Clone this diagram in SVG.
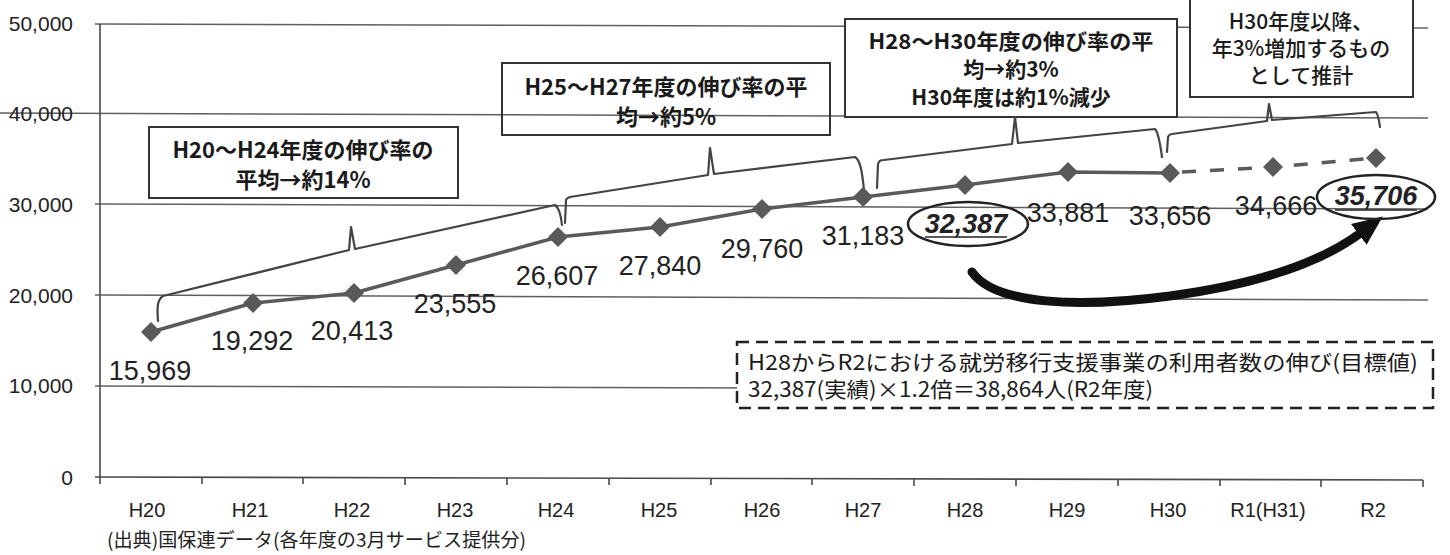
<svg xmlns="http://www.w3.org/2000/svg" xmlns:xlink="http://www.w3.org/1999/xlink" width="1450" height="555" viewBox="0 0 1450 555">
<style>
.grid{stroke:#5f5f5f;stroke-width:1.5;fill:none}
.axis{stroke:#4a4a4a;stroke-width:1.6;fill:none}
.ylab{font-family:"Liberation Sans",Arial,sans-serif;font-size:21px;fill:#222;text-anchor:end}
.xlab{font-family:"Liberation Sans",Arial,sans-serif;font-size:20px;fill:#222;text-anchor:middle}
.val{font-family:"Liberation Sans",Arial,sans-serif;font-size:27px;fill:#222;text-anchor:middle}
.valem{font-family:"Liberation Sans",Arial,sans-serif;font-size:27px;fill:#222;text-anchor:middle;font-style:italic;font-weight:bold}
.box{stroke:#333;stroke-width:2;fill:#fff}
.boxt{font-family:"Noto Sans CJK JP",sans-serif;font-size:22px;font-weight:700;fill:#1a1a1a;text-anchor:middle}
.boxs{font-family:"Noto Sans CJK JP",sans-serif;font-size:21px;font-weight:700;fill:#1a1a1a;text-anchor:middle}
.boxn{font-family:"Noto Sans CJK JP",sans-serif;font-size:21px;font-weight:500;fill:#1a1a1a;text-anchor:middle}
.note{font-family:"Noto Sans CJK JP",sans-serif;font-size:21px;fill:#1a1a1a}
.src{font-family:"Noto Sans CJK JP",sans-serif;font-size:19px;fill:#222}
.brace{stroke:#444;stroke-width:2.2;fill:none;stroke-linejoin:round;stroke-linecap:round}
.series{stroke:#5a5a5a;stroke-width:3.5;fill:none;stroke-linejoin:round}
.proj{stroke:#5a5a5a;stroke-width:3.5;fill:none;stroke-dasharray:14 14}
.ring{stroke:#222;stroke-width:2.5;fill:none}
.mk{fill:#595959}
</style>
<defs>
<path id="dia" d="M0,-10 L10,0 L0,10 L-10,0 Z"/>
<marker id="head" markerUnits="userSpaceOnUse" markerWidth="30" markerHeight="26" viewBox="0 0 30 26" refX="4" refY="13" orient="auto">
<path d="M0,0 L30,13 L0,26 Z" fill="#111"/>
</marker>
</defs>
<rect width="1450" height="555" fill="#fff"/>

<g id="axes">
<line class="grid" x1="95" y1="24" x2="1428" y2="28"/>
<line class="grid" x1="0" y1="113" x2="1428" y2="118"/>
<line class="grid" x1="95" y1="204" x2="1428" y2="209"/>
<line class="grid" x1="95" y1="295" x2="1428" y2="300"/>
<line class="grid" x1="95" y1="386" x2="1428" y2="390"/>
<line class="axis" x1="100" y1="24" x2="100" y2="478"/>
<line class="axis" x1="95" y1="477" x2="1423" y2="480"/>
<path class="axis" d="M100,477 v7 M202,477 v7 M303,477 v7 M405,478 v7 M507,478 v7 M609,478 v7 M711,478 v7 M812,478 v7 M914,479 v7 M1016,479 v7 M1118,479 v7 M1220,479 v7 M1321,480 v7 M1423,480 v7"/>
<text class="ylab" x="73" y="31">50,000</text>
<text class="ylab" x="73" y="121">40,000</text>
<text class="ylab" x="73" y="212">30,000</text>
<text class="ylab" x="73" y="303">20,000</text>
<text class="ylab" x="73" y="393">10,000</text>
<text class="ylab" x="73" y="485">0</text>
<text class="xlab" x="147" y="517">H20</text>
<text class="xlab" x="250" y="517">H21</text>
<text class="xlab" x="352" y="517">H22</text>
<text class="xlab" x="455" y="517">H23</text>
<text class="xlab" x="556" y="517">H24</text>
<text class="xlab" x="659" y="517">H25</text>
<text class="xlab" x="762" y="517">H26</text>
<text class="xlab" x="863" y="517">H27</text>
<text class="xlab" x="965" y="517">H28</text>
<text class="xlab" x="1067" y="517">H29</text>
<text class="xlab" x="1168" y="517">H30</text>
<text class="xlab" x="1268" y="517">R1(H31)</text>
<text class="xlab" x="1373" y="517">R2</text>
<text class="src" x="107" y="547" textLength="419" lengthAdjust="spacingAndGlyphs">(出典)国保連データ(各年度の3月サービス提供分)</text>
</g>

<g id="box-h20">
<rect class="box" x="149" y="127" width="309" height="71"/>
<text class="boxt" x="303" y="158">H20～H24年度の伸び率の</text>
<text class="boxt" x="303" y="188">平均→約14%</text>
</g>
<g id="box-h25">
<rect class="box" x="502" y="63" width="328" height="72" style="fill:none"/>
<text class="boxt" x="666" y="95">H25～H27年度の伸び率の平</text>
<text class="boxt" x="666" y="125">均→約5%</text>
</g>
<g id="box-h28">
<rect class="box" x="845" y="19" width="332" height="98"/>
<text class="boxs" x="1011" y="49" textLength="285" lengthAdjust="spacingAndGlyphs">H28～H30年度の伸び率の平</text>
<text class="boxs" x="1011" y="77">均→約3%</text>
<text class="boxs" x="1011" y="105">H30年度は約1%減少</text>
</g>
<g id="box-h30">
<rect class="box" x="1190" y="-5" width="223" height="102"/>
<text class="boxn" x="1301" y="29">H30年度以降、</text>
<text class="boxn" x="1301" y="56">年3%増加するもの</text>
<text class="boxn" x="1301" y="83">として推計</text>
</g>

<g id="connectors">
<path class="brace" d="M158,321 C157,308 157,300 163,296 L349,250 L351,227 M351,227 L355,249 L555,205 C559,208 561,215 562,225"/>
<path class="brace" d="M565,223 L566,200 C567,198 568,198 570,197 L708,175 L710,148 M710,148 L714,174 L855,157 C860,160 862,170 864,190"/>
<path class="brace" d="M877,188 L878,164 C879,161 880,160 884,160 L1012,144 L1015,117 M1015,117 L1018,143 L1155,129 C1158,132 1160,142 1162,157"/>
<path class="brace" d="M1167,152 L1168,137 C1169,135 1170,134 1172,134 L1267,121 L1269,104 M1269,104 L1272,120 L1376,112 C1378,114 1379,120 1380,127"/>
<polyline class="series" points="151,332 253,303 354,293 456,265 558,237 660,227 762,209 863,197 965,185 1068,172 1170,173"/>
<polyline class="proj" points="1182,172 1273,167 1376,158"/>
<path d="M972,272 C995,305 1080,308 1170,296 S1322,262 1362,232" stroke="#111" stroke-width="9" fill="none" stroke-linecap="round" marker-end="url(#head)"/>
</g>

<g id="series-points">
<use href="#dia" class="mk" x="151" y="332"/>
<use href="#dia" class="mk" x="253" y="303"/>
<use href="#dia" class="mk" x="354" y="293"/>
<use href="#dia" class="mk" x="456" y="265"/>
<use href="#dia" class="mk" x="558" y="237"/>
<use href="#dia" class="mk" x="660" y="227"/>
<use href="#dia" class="mk" x="762" y="209"/>
<use href="#dia" class="mk" x="863" y="197"/>
<use href="#dia" class="mk" x="965" y="185"/>
<use href="#dia" class="mk" x="1068" y="172"/>
<use href="#dia" class="mk" x="1170" y="173"/>
<use href="#dia" class="mk" x="1273" y="167"/>
<use href="#dia" class="mk" x="1376" y="158"/>
</g>

<g id="series-labels">
<text class="val" x="150" y="380">15,969</text>
<text class="val" x="252" y="350">19,292</text>
<text class="val" x="352" y="340">20,413</text>
<text class="val" x="455" y="313">23,555</text>
<text class="val" x="557" y="285">26,607</text>
<text class="val" x="660" y="275">27,840</text>
<text class="val" x="762" y="258">29,760</text>
<text class="val" x="863" y="245">31,183</text>
<text class="valem" x="966" y="233">32,387</text>
<line x1="925" y1="237" x2="1007" y2="237" stroke="#222" stroke-width="1.5"/>
<ellipse class="ring" cx="968" cy="224" rx="60" ry="22"/>
<text class="val" x="1068" y="222">33,881</text>
<text class="val" x="1170" y="225">33,656</text>
<text class="val" x="1276" y="215">34,666</text>
<text class="valem" x="1376" y="205">35,706</text>
<line x1="1335" y1="210" x2="1417" y2="210" stroke="#222" stroke-width="1.5"/>
<ellipse class="ring" cx="1376" cy="197" rx="59" ry="22"/>
</g>

<g id="note-box">
<rect x="737" y="342" width="696" height="66" fill="#fff" stroke="#222" stroke-width="2.5" stroke-dasharray="12 7"/>
<text class="note" x="748" y="370" textLength="670" lengthAdjust="spacingAndGlyphs">H28からR2における就労移行支援事業の利用者数の伸び(目標値)</text>
<text class="note" x="748" y="397" textLength="405" lengthAdjust="spacingAndGlyphs">32,387(実績)×1.2倍＝38,864人(R2年度)</text>
</g>
</svg>
